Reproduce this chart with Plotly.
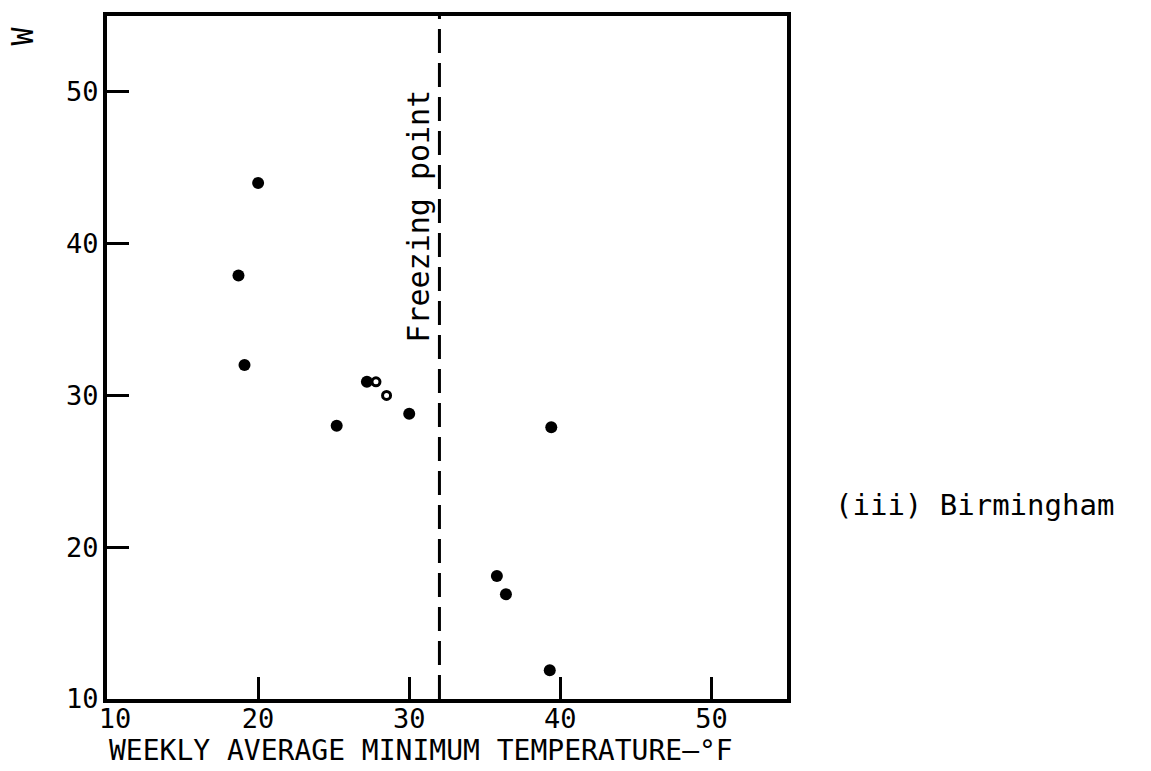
import plotly.graph_objects as go

# Data (Birmingham)
temp_filled = [20.0, 18.7, 19.1, 25.2, 27.2, 30.0, 39.4, 35.8, 36.4, 39.3]
w_filled = [44.0, 37.9, 32.0, 28.0, 30.9, 28.8, 27.9, 18.1, 16.9, 11.9]
temp_open = [27.8, 28.5]
w_open = [30.9, 30.0]
FREEZING_F = 32
x_ticks = [10, 20, 30, 40, 50]
x_ticklabels = ["\u00a010", "20", "30", "40", "50"]
y_ticks = [10, 20, 30, 40, 50]
y_ticklabels = ["10", "20", "30", "40", "50"]
x_range = [10, 55]
y_range = [10, 55]

FONT = "DejaVu Sans Mono"

fig = go.Figure()
fig.add_trace(go.Scatter(
    x=temp_filled, y=w_filled, mode="markers",
    marker=dict(size=12, color="black", symbol="circle"),
    showlegend=False, hoverinfo="x+y"))
fig.add_trace(go.Scatter(
    x=temp_open, y=w_open, mode="markers",
    marker=dict(size=8, color="black", symbol="circle-open", line=dict(width=3, color="black")),
    showlegend=False, hoverinfo="x+y"))

fig.add_vline(x=FREEZING_F, line=dict(color="black", width=3, dash="24px,10px"))

fig.add_annotation(x=30.6, y=41.8, xref="x", yref="y", text="Freezing point",
                   textangle=-90, showarrow=False, xanchor="center", yanchor="middle",
                   font=dict(family=FONT, size=30, color="black"))
fig.add_annotation(x=-0.124, y=0.971, xref="paper", yref="paper", text="W",
                   textangle=-90, showarrow=False, xanchor="center", yanchor="middle",
                   font=dict(family=FONT, size=30, color="black"))
fig.add_annotation(x=1.068, y=0.284, xref="paper", yref="paper", text="(iii) Birmingham",
                   showarrow=False, xanchor="left", yanchor="middle",
                   font=dict(family=FONT, size=29, color="black"))
fig.add_annotation(x=0.0, y=-0.076, xref="paper", yref="paper",
                   text="WEEKLY AVERAGE MINIMUM TEMPERATURE—°F",
                   showarrow=False, xanchor="left", yanchor="middle",
                   font=dict(family=FONT, size=28, color="black"))

axis_common = dict(
    showline=True, linecolor="black", linewidth=4, mirror=True,
    ticks="inside", tickcolor="black", tickwidth=3, ticklen=22,
    showgrid=False, zeroline=False,
    tickfont=dict(family=FONT, size=27, color="black"),
)
fig.update_xaxes(range=x_range, tickvals=x_ticks, ticktext=x_ticklabels, ticklabelstandoff=-7, **axis_common)
fig.update_yaxes(range=y_range, tickvals=y_ticks, ticktext=y_ticklabels, ticklabelstandoff=-1, **axis_common)

fig.update_layout(
    width=1151, height=771,
    margin=dict(l=107, r=364, t=12, b=72),
    plot_bgcolor="white", paper_bgcolor="white",
    font=dict(family=FONT, color="black"),
)
fig.write_html("out.html")
